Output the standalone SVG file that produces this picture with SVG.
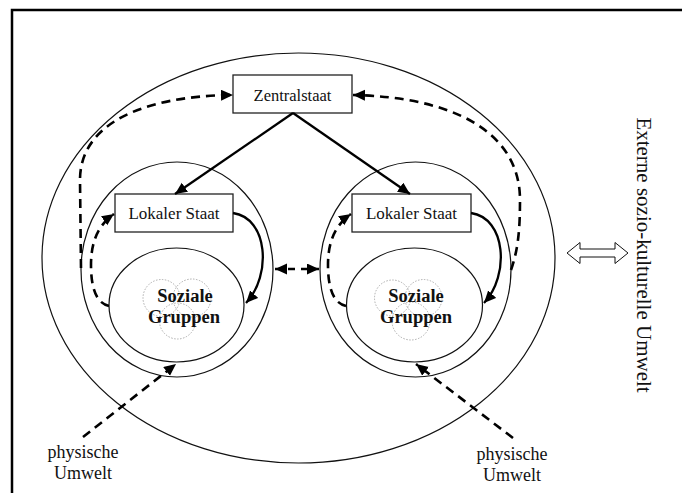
<svg xmlns="http://www.w3.org/2000/svg" width="682" height="493" viewBox="0 0 682 493" font-family="'Liberation Serif', 'Times New Roman', serif">
  <style>
    text { font-family: "Liberation Serif", "Times New Roman", serif; fill: #111; }
    .box { fill: #fff; stroke: #222; stroke-width: 1.3; }
    .ring { fill: none; stroke: #111; stroke-width: 1.2; }
    .venn { fill: none; stroke: #999; stroke-width: 0.8; stroke-dasharray: 1.5 1.5; }
    .solid { fill: none; stroke: #000; stroke-width: 2.3; }
    .dash { fill: none; stroke: #000; stroke-width: 2.6; stroke-dasharray: 9 6; }
    .lbl { font-size: 16.5px; text-anchor: middle; }
    .big { font-size: 18.5px; font-weight: bold; text-anchor: middle; }
    .env { font-size: 18px; text-anchor: middle; }
  </style>
  <defs>
    <marker id="ah" markerUnits="userSpaceOnUse" markerWidth="14" markerHeight="12" refX="12" refY="5.5" orient="auto">
      <path d="M0,0 L12,5.5 L0,11 z" fill="#000" stroke="none"/>
    </marker>
    <marker id="ahs" markerUnits="userSpaceOnUse" markerWidth="14" markerHeight="12" refX="12" refY="5.5" orient="auto-start-reverse">
      <path d="M0,0 L12,5.5 L0,11 z" fill="#000" stroke="none"/>
    </marker>
  </defs>

  <rect x="12" y="10" width="690" height="500" fill="none" stroke="#000" stroke-width="2.5"/>

  <g id="umwelt-extern">
    <ellipse class="ring" cx="298.5" cy="258" rx="256.5" ry="205"/>
  </g>

  <g id="region-links">
    <ellipse class="ring" cx="177" cy="269.5" rx="96" ry="107.5"/>
  </g>
  <g id="region-rechts">
    <ellipse class="ring" cx="415.5" cy="269.5" rx="95.5" ry="107.5"/>
  </g>

  <g id="zentralstaat">
    <rect class="box" x="233" y="75" width="119" height="38"/>
    <text class="lbl" x="292.5" y="100.5">Zentralstaat</text>
  </g>

  <g id="lokaler-staat-links">
    <rect class="box" x="115" y="194" width="118" height="38"/>
    <text class="lbl" x="174" y="219" style="font-size:17px">Lokaler Staat</text>
  </g>
  <g id="lokaler-staat-rechts">
    <rect class="box" x="352" y="194" width="119" height="38"/>
    <text class="lbl" x="411.5" y="219" style="font-size:17px">Lokaler Staat</text>
  </g>

  <g id="soziale-gruppen-links">
    <ellipse class="ring" cx="176.5" cy="305" rx="67.5" ry="57"/>
    <circle class="venn" cx="161.5" cy="298" r="18.5"/>
    <circle class="venn" cx="192" cy="298" r="19"/>
    <circle class="venn" cx="177.5" cy="321" r="18"/>
    <text class="big" x="185" y="302">Soziale</text>
    <text class="big" x="184" y="323">Gruppen</text>
  </g>
  <g id="soziale-gruppen-rechts">
    <ellipse class="ring" cx="414.5" cy="305" rx="68" ry="57"/>
    <circle class="venn" cx="392.5" cy="298" r="18"/>
    <circle class="venn" cx="423.5" cy="298" r="18.5"/>
    <circle class="venn" cx="411" cy="321" r="19"/>
    <text class="big" x="416" y="302">Soziale</text>
    <text class="big" x="416" y="323">Gruppen</text>
  </g>

  <g id="physische-umwelt-links">
    <text class="env" x="83" y="458">physische</text>
    <text class="env" x="83" y="479">Umwelt</text>
  </g>
  <g id="physische-umwelt-rechts">
    <text class="env" x="512" y="460">physische</text>
    <text class="env" x="512" y="481">Umwelt</text>
  </g>

  <g id="externe-umwelt">
    <text x="0" y="0" transform="translate(637,255) rotate(90)" style="font-size:21px; text-anchor:middle">Externe sozio-kulturelle Umwelt</text>
  </g>

  <g id="connectors">
    <line class="solid" x1="293" y1="113" x2="175" y2="194" marker-end="url(#ah)"/>
    <line class="solid" x1="293" y1="113" x2="410" y2="194" marker-end="url(#ah)"/>
    <path class="solid" d="M233,213 C268,218 272,275 246,303" marker-end="url(#ah)"/>
    <path class="solid" d="M471,213 C506,218 510,275 484,303" marker-end="url(#ah)"/>
    <path class="dash" d="M109,306 C95,303 91,285 91,265 C91,242 98,225 114,214" marker-end="url(#ah)"/>
    <path class="dash" d="M346,306 C332,303 328,285 328,265 C328,242 335,225 351,214" marker-end="url(#ah)"/>
    <path class="dash" d="M81,268 L80,180 C80,125 140,96 233,95" marker-end="url(#ah)"/>
    <path class="dash" d="M511,270 C518,250 520,230 520,200 C520,130 450,97 353,95" marker-end="url(#ah)"/>
    <line class="dash" x1="275" y1="269" x2="319" y2="269" style="stroke-dasharray:7 6" marker-start="url(#ahs)" marker-end="url(#ahs)"/>
    <line class="dash" x1="83" y1="437" x2="176" y2="364" marker-end="url(#ah)"/>
    <line class="dash" x1="513" y1="438" x2="416" y2="364" marker-end="url(#ah)"/>
    <polygon points="567,253 580,242.5 580,249 615,249 615,242.5 628,253 615,263.5 615,257 580,257 580,263.5" fill="#fff" stroke="#111" stroke-width="1"/>
  </g>
</svg>
